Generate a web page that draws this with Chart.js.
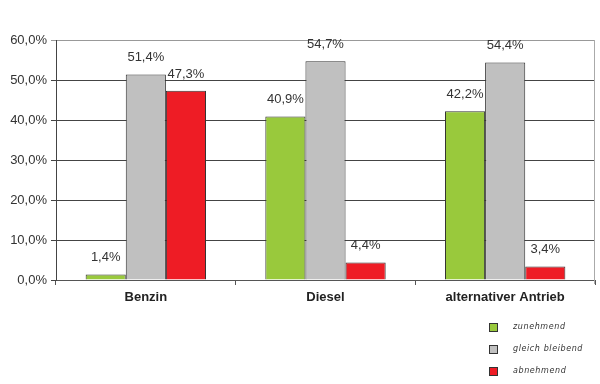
<!DOCTYPE html>
<html>
<head>
<meta charset="utf-8">
<script src="https://cdn.jsdelivr.net/npm/chart.js@4"></script>
<style>
  body { margin: 0; background: #fff; }
  #wrap { position: relative; width: 600px; height: 384px; }
  #legend { position: absolute; left: 489px; top: 322px; font: italic 8px "DejaVu Sans", sans-serif; color: #333; }
  #legend div { height: 22px; display: flex; align-items: flex-start; }
  #legend span.box { display: inline-block; width: 7px; height: 7px; border: 1px solid #333; margin-right: 15px; margin-top: 1px; }
  #legend span.txt { letter-spacing: 0.6px; }
</style>
</head>
<body>
<div id="wrap">
  <canvas id="c" width="600" height="384"></canvas>
  <div id="legend"></div>
</div>
<script>
const categories = ["Benzin", "Diesel", "alternativer Antrieb"];
const seriesNames = ["zunehmend", "gleich bleibend", "abnehmend"];
const zunehmend = [1.4, 40.9, 42.2];
const gleichBleibend = [51.4, 54.7, 54.4];
const abnehmend = [47.3, 4.4, 3.4];
const colors = ["#99c93c", "#c0c0c0", "#ee1c25"];
const yTicks = [0, 10, 20, 30, 40, 50, 60];

function fmt(v) {
  return v.toFixed(1).replace(".", ",") + "%";
}

const valueLabels = {
  id: "valueLabels",
  afterDatasetsDraw(chart) {
    const ctx = chart.ctx;
    ctx.save();
    ctx.font = '13px "Liberation Sans", Arial, sans-serif';
    ctx.fillStyle = "#333";
    ctx.textAlign = "center";
    ctx.textBaseline = "bottom";
    chart.data.datasets.forEach((ds, i) => {
      chart.getDatasetMeta(i).data.forEach((bar, j) => {
        ctx.fillText(fmt(ds.data[j]), bar.x, bar.y - 10);
      });
    });
    // right border of the plot
    const a = chart.chartArea;
    ctx.strokeStyle = "#aaa";
    ctx.lineWidth = 1;
    ctx.beginPath();
    ctx.moveTo(a.right - 0.5, a.top);
    ctx.lineTo(a.right - 0.5, a.bottom + 4);
    ctx.stroke();
    ctx.restore();
  }
};

const datasets = [zunehmend, gleichBleibend, abnehmend].map((d, i) => ({
  label: seriesNames[i],
  data: d,
  backgroundColor: colors[i],
  borderColor: "#333",
  borderWidth: 1,
  borderSkipped: "bottom",
  categoryPercentage: 0.67,
  barPercentage: 1
}));

new Chart(document.getElementById("c"), {
  type: "bar",
  data: { labels: categories, datasets: datasets },
  plugins: [valueLabels],
  options: {
    responsive: false,
    animation: false,
    layout: { padding: { top: 40, right: 5, left: 0, bottom: 0 } },
    plugins: {
      legend: { display: false },
      tooltip: { enabled: false }
    },
    scales: {
      x: {
        grid: { offset: true, drawOnChartArea: false, tickLength: 5, color: "#555" },
        border: { color: "#555" },
        ticks: {
          font: { family: '"Liberation Sans", Arial, sans-serif', size: 13, weight: "bold" },
          color: "#222",
          padding: 5
        },
        afterFit(scale) { scale.height = 104; }
      },
      y: {
        min: 0,
        max: 60,
        afterBuildTicks(scale) { scale.ticks = yTicks.map(v => ({ value: v })); },
        grid: {
          color: c => (c.tick && c.tick.value === 60 ? "#999" : "#444"),
          tickLength: 5
        },
        border: { color: "#444" },
        ticks: {
          font: { family: '"Liberation Sans", Arial, sans-serif', size: 13 },
          color: "#333",
          padding: 4,
          callback: v => fmt(v)
        },
        afterFit(scale) { scale.width = 56; }
      }
    }
  }
});

const legend = document.getElementById("legend");
seriesNames.forEach((n, i) => {
  const row = document.createElement("div");
  row.innerHTML = '<span class="box" style="background:' + colors[i] + '"></span><span class="txt">' + n + "</span>";
  legend.appendChild(row);
});
</script>
</body>
</html>
